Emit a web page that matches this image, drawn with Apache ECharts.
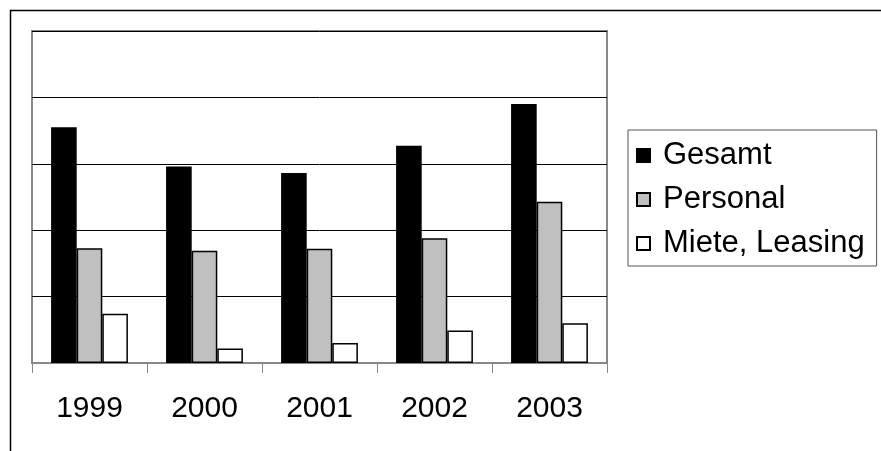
<!DOCTYPE html>
<html>
<head>
<meta charset="utf-8">
<script src="https://cdn.jsdelivr.net/npm/echarts@6/dist/echarts.min.js"></script>
<style>
html, body { margin: 0; padding: 0; background: #fff; }
#chart { width: 881px; height: 451px; }
</style>
</head>
<body>
<div id="chart"></div>
<script>
// Daten
var years = ['1999', '2000', '2001', '2002', '2003'];
var gesamt = [3.55, 2.96, 2.86, 3.27, 3.90];
var personal = [1.73, 1.69, 1.72, 1.88, 2.43];
var miete = [0.74, 0.22, 0.30, 0.49, 0.60];
var seriesNames = ['Gesamt', 'Personal', 'Miete, Leasing'];

var fontFam = 'Arial, "Liberation Sans", sans-serif';

function makeBar(name, data, fill) {
	return {
		name : name,
		type : 'bar',
		data : data,
		barWidth : 25.6,
		barGap : '0%',
		itemStyle : {
			color : fill,
			borderColor : '#000',
			borderWidth : 1.5
		},
		emphasis : { disabled : true }
	};
}

var myChart = echarts.init(document.getElementById('chart'), null, { renderer : 'canvas' });

var options = {
	animation : false,
	backgroundColor : '#fff',
	textStyle : { fontFamily : fontFam },
	grid : {
		left : 32,
		right : 274,
		top : 31,
		bottom : 88,
		show : true,
		borderColor : '#888',
		borderWidth : 2,
		containLabel : false
	},
	legend : {
		orient : 'vertical',
		left : 628,
		top : 130,
		data : seriesNames,
		icon : 'rect',
		itemWidth : 13,
		itemHeight : 13,
		itemGap : 13,
		padding : [10, 12, 7, 8],
		borderColor : '#555',
		borderWidth : 1,
		textStyle : {
			fontSize : 31,
			color : '#000',
			fontFamily : fontFam,
			padding : [0, 0, 0, 8]
		},
		selectedMode : false
	},
	xAxis : [ {
		type : 'category',
		data : years,
		axisLine : { show : true, lineStyle : { color : '#888', width : 2 } },
		axisTick : { show : true, length : 10, lineStyle : { color : '#888', width : 1 } },
		axisLabel : {
			fontSize : 30,
			color : '#000',
			margin : 31,
			fontFamily : fontFam
		}
	} ],
	yAxis : [ {
		type : 'value',
		min : 0,
		max : 5,
		interval : 1,
		axisLine : { show : false },
		axisTick : { show : false },
		axisLabel : { show : false },
		splitLine : { show : true, lineStyle : { color : '#000', width : 1 } }
	} ],
	graphic : [ {
		type : 'polyline',
		silent : true,
		shape : { points : [ [10.5, 451], [10.5, 10.5], [881, 10.5] ] },
		style : { stroke : '#000', lineWidth : 1.5, fill : null }
	} ],
	series : [
		makeBar(seriesNames[0], gesamt, '#000'),
		makeBar(seriesNames[1], personal, '#c0c0c0'),
		makeBar(seriesNames[2], miete, '#fff')
	]
};
myChart.setOption(options);
</script>
</body>
</html>
